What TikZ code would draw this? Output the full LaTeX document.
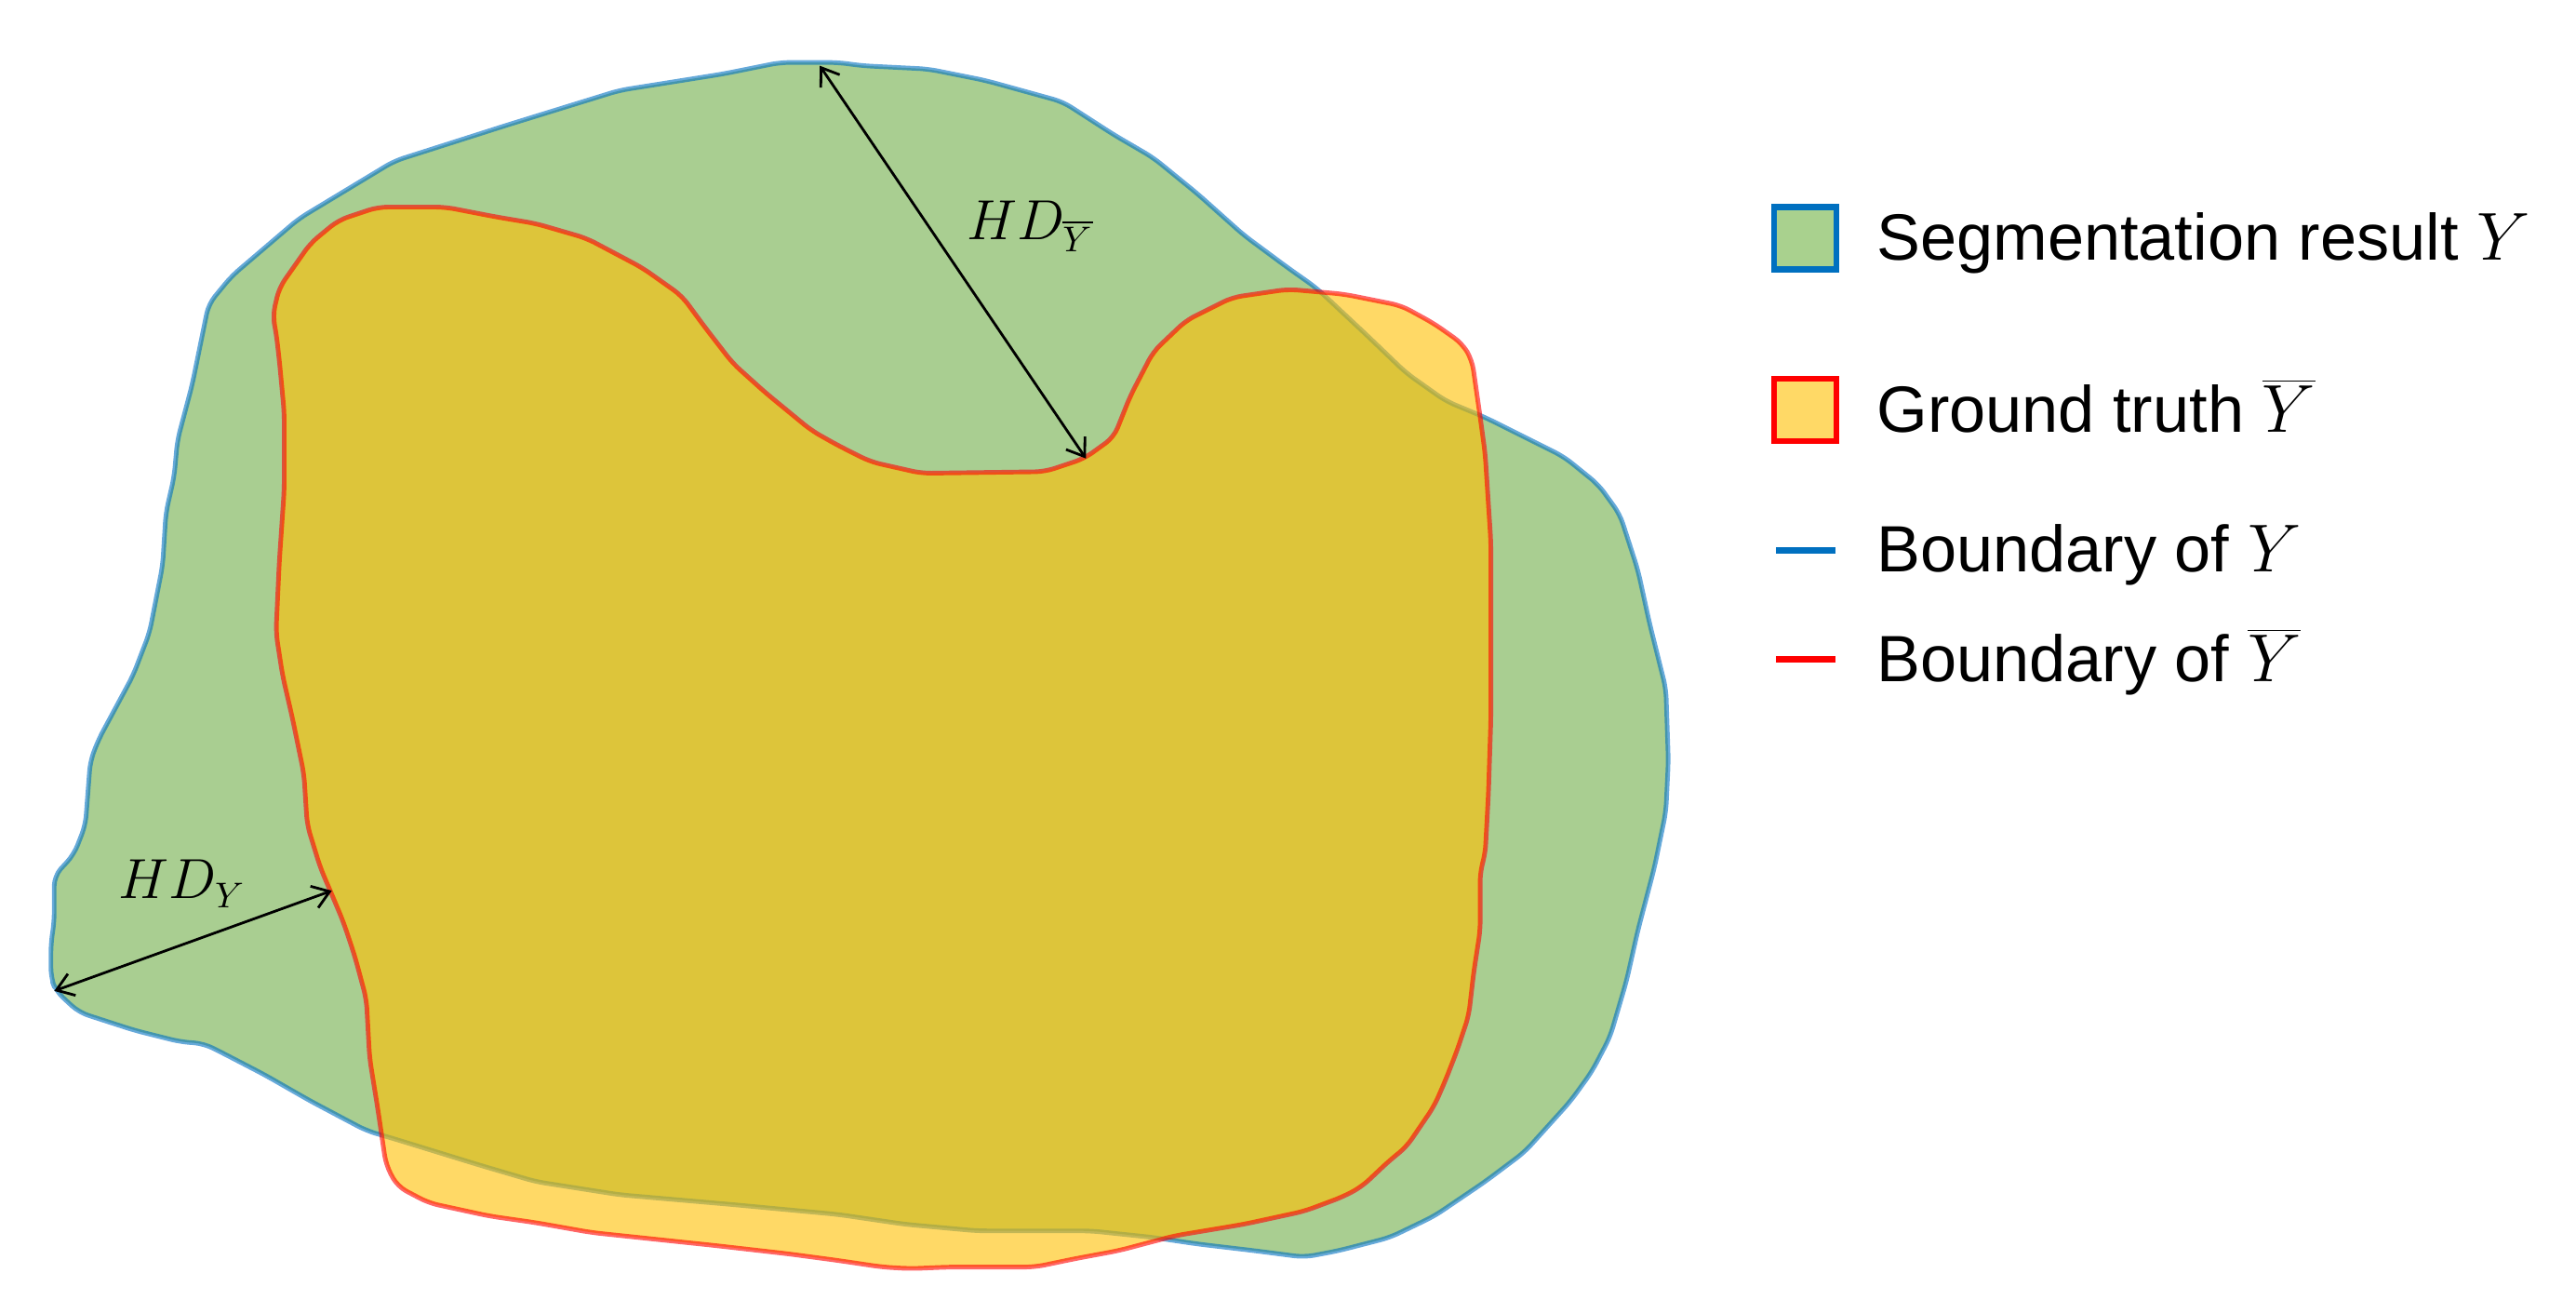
\documentclass[tikz,border=0pt]{standalone}
\usepackage{fontspec}
\setmainfont{Liberation Sans}
\usetikzlibrary{arrows.meta}
\definecolor{segfill}{RGB}{112,173,71}
\definecolor{segline}{RGB}{0,112,192}
\definecolor{gtfill}{RGB}{255,192,0}
\definecolor{gtline}{RGB}{255,0,0}
\definecolor{seglegend}{RGB}{169,209,142}
\definecolor{gtlegend}{RGB}{255,217,102}
\tikzset{
  segshape/.style={fill=segfill,draw=segline,opacity=0.6,line width=1.4pt,line join=round,rounded corners=3pt},
  gtshape/.style={fill=gtfill,draw=gtline,opacity=0.6,line width=1.4pt,line join=round,rounded corners=3pt},
  hdarrow/.style={<->,>={Straight Barb[length=5pt,width=7pt]},line width=0.8pt,black},
  hdlabel/.style={font=\fontsize{16}{18}\selectfont,anchor=base west,inner sep=0pt},
  legtext/.style={font=\fontsize{20}{24}\selectfont,anchor=base west,inner sep=0pt},
  legbox/.style={line width=1.8pt,minimum width=0.67cm,minimum height=0.67cm,inner sep=0pt},
  legline/.style={line width=2pt}
}
\begin{document}
\begin{tikzpicture}[x=0.017659cm,y=-0.017659cm]
\useasboundingbox (0,0) rectangle (1568,791);
% Segmentation result Y
\path[segshape] (475,38) -- (510,38) -- (525,40) -- (565,42) -- (600,49) -- (647,62) -- (678,82) -- (702,96) -- (729,118) -- (757,143) -- (784,163) -- (801,175) -- (832,204) -- (856,227) -- (880,244) -- (904,254) -- (928,266) -- (952,278) -- (973,295) -- (986,313) -- (997,347) -- (1004,379) -- (1008,395) -- (1014,419) -- (1015.5,463) -- (1014,494) -- (1007,528) -- (997,566) -- (990,597) -- (980,631) -- (969,652) -- (956,670) -- (928,701) -- (904,719) -- (873,740) -- (846,753) -- (815,761) -- (794,765) -- (763,761) -- (729,757) -- (702,753) -- (664,749) -- (595,749) -- (551,745) -- (510,739) -- (446,733) -- (377,727) -- (326,719) -- (292,709) -- (240,693) -- (223,688) -- (189,670) -- (161,654) -- (134,640) -- (124,635) -- (110,634) -- (82,627) -- (48,616) -- (34,603) -- (31,595) -- (31,574) -- (33,561) -- (33,533) -- (45,520) -- (52,502) -- (55,463) -- (60,450) -- (81,411) -- (91,385) -- (99,344) -- (101,312) -- (106,290) -- (108,268) -- (117,234) -- (127,185) -- (141,168) -- (182,133) -- (240,98) -- (309,76) -- (377,55) -- (440,45) -- cycle;
% Ground truth
\path[gtshape] (230,126) -- (271,126) -- (302,132) -- (326,136) -- (357,145) -- (391,163) -- (415,180) -- (429,199) -- (446,221) -- (466,239) -- (494,262) -- (510,271) -- (530,281) -- (561,288) -- (636,287) -- (660,279) -- (678,266) -- (688,241) -- (702,214) -- (722,195) -- (750,181) -- (784,176) -- (818,179) -- (853,186) -- (873,197) -- (890,209) -- (896,219) -- (901,254) -- (904,276) -- (907.5,330) -- (907.5,437) -- (906,483) -- (904,520) -- (901,530) -- (901,566) -- (897,592) -- (894,618) -- (887,639) -- (880,657) -- (873,673) -- (856,698) -- (846,706) -- (829,722) -- (818,728) -- (794,737) -- (757,745) -- (715,752) -- (681,761) -- (654,766) -- (630,771) -- (578,771) -- (554,772) -- (537,771) -- (510,767) -- (480,763) -- (436,758) -- (360,750) -- (326,744) -- (298,740) -- (261,732) -- (242,722) -- (235,709) -- (230,675) -- (225,644) -- (223,608) -- (216,582) -- (209,561) -- (201,542) -- (195,528) -- (187,502) -- (185,471) -- (178,437) -- (172,411) -- (168,385) -- (170,342) -- (173,298) -- (173,251) -- (170,219) -- (168,202) -- (166,192) -- (170,175) -- (189,148) -- (206,134) -- cycle;
% Hausdorff arrows
\coordinate (top) at (499,40);
\coordinate (notch) at (661,279);
\coordinate (left) at (33,603);
\coordinate (gtleft) at (202,542);
\draw[hdarrow] (top) -- (notch);
\draw[hdarrow] (left) -- (gtleft);
\node[hdlabel] (hdbar) at (588,146) {$HD_{\overline{Y}}$};
\node[hdlabel] (hd) at (72,547) {$HD_{Y}$};
% Legend
\node[legbox,draw=segline,fill=seglegend] (lg1) at (1099,145) {};
\node[legtext] (lt1) at (1142,158) {Segmentation result $Y$};
\node[legbox,draw=gtline,fill=gtlegend] (lg2) at (1099,249.5) {};
\node[legtext] (lt2) at (1142,263) {Ground truth $\overline{Y}$};
\coordinate (lb1) at (1081,335);
\coordinate (lb2) at (1117,335);
\draw[legline,segline] (lb1) -- (lb2);
\node[legtext] (lt3) at (1142,348) {Boundary of $Y$};
\coordinate (lr1) at (1081,401);
\coordinate (lr2) at (1117,401);
\draw[legline,gtline] (lr1) -- (lr2);
\node[legtext] (lt4) at (1142,414.5) {Boundary of $\overline{Y}$};
\end{tikzpicture}
\end{document}
